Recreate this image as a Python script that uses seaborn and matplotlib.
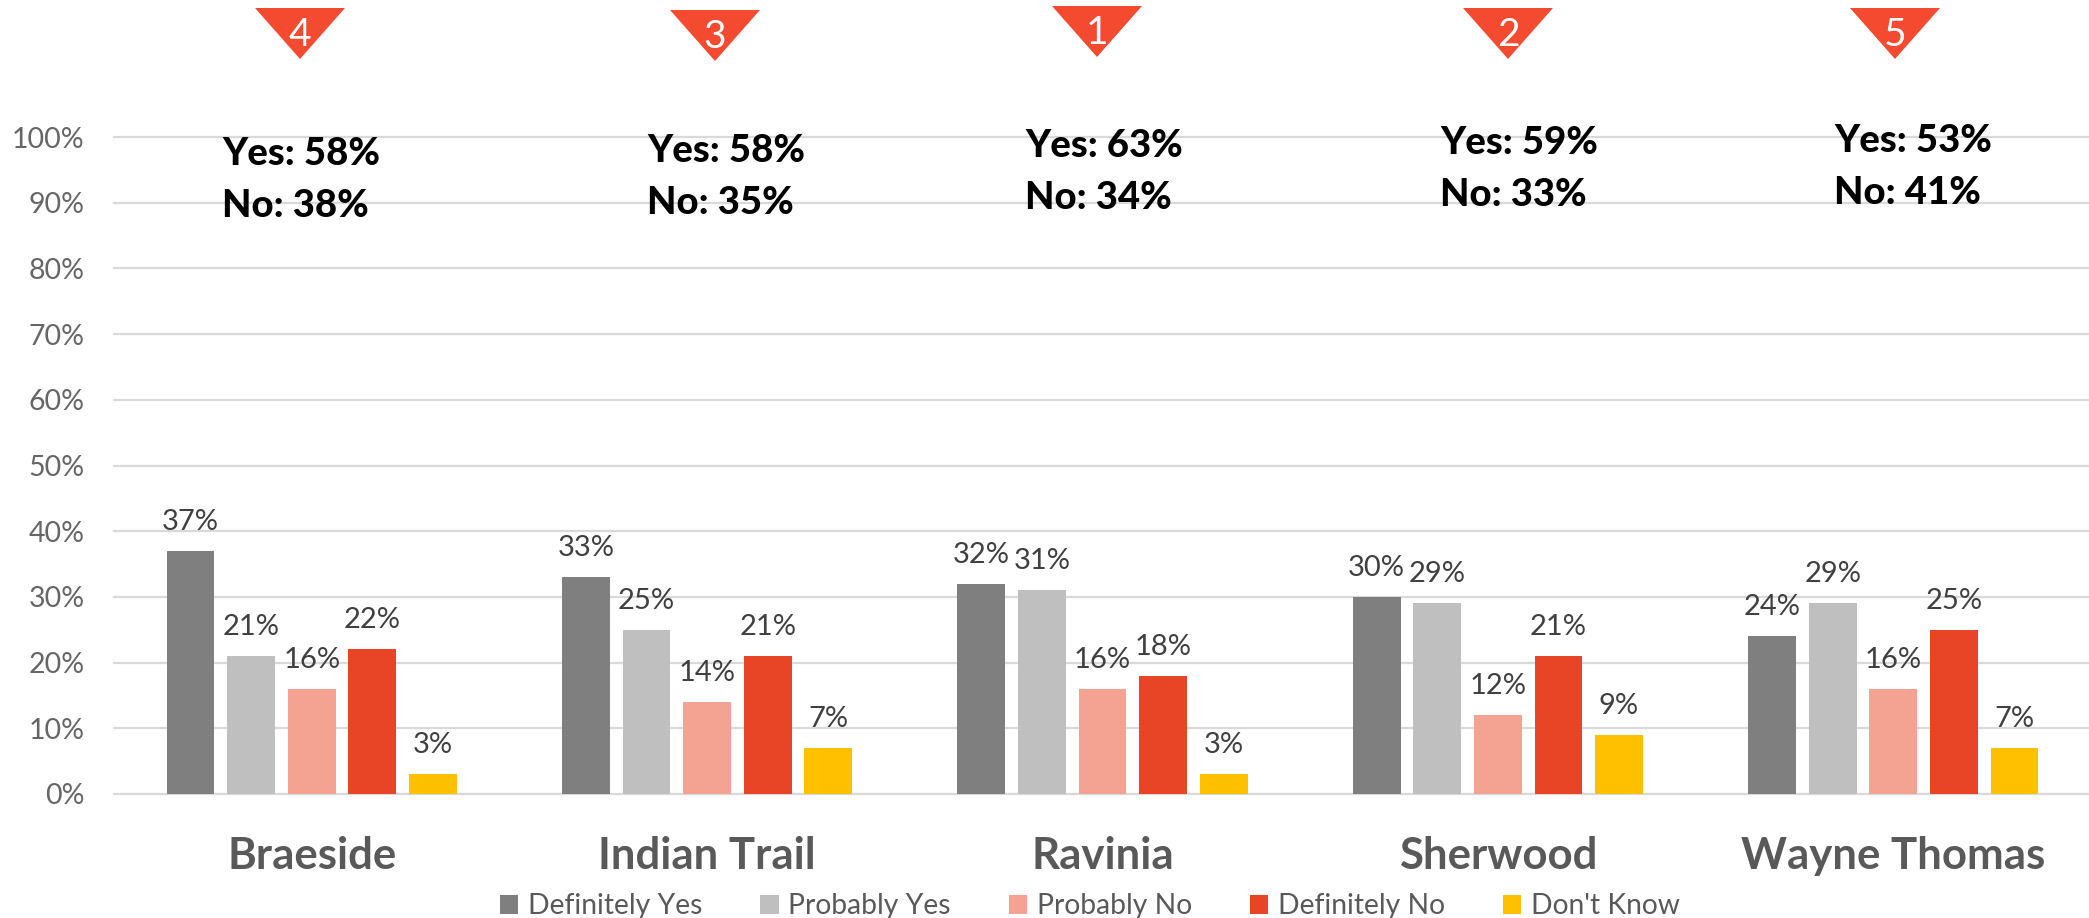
import pandas as pd
import matplotlib
matplotlib.use('Agg')
import matplotlib.pyplot as plt
from matplotlib.patches import Polygon
import seaborn as sns

# %% Data.
schools = ['Braeside', 'Indian Trail', 'Ravinia', 'Sherwood', 'Wayne Thomas']
answers = ['Definitely Yes', 'Probably Yes', 'Probably No', 'Definitely No', "Don't Know"]
definitely_yes = [37, 33, 32, 30, 24]
probably_yes = [21, 25, 31, 29, 29]
probably_no = [16, 14, 16, 12, 16]
definitely_no = [22, 21, 18, 21, 25]
dont_know = [3, 7, 3, 9, 7]
ranks = [4, 3, 1, 2, 5]
yes_totals = [58, 58, 63, 59, 53]
no_totals = [38, 35, 34, 33, 41]

colors = ['#7f7f7f', '#bfbfbf', '#f4a392', '#e84526', '#ffc000']

df = pd.DataFrame({'school': schools, answers[0]: definitely_yes, answers[1]: probably_yes,
                   answers[2]: probably_no, answers[3]: definitely_no, answers[4]: dont_know})
df = df.melt(id_vars='school', var_name='answer', value_name='share')

# %% Layout of the callouts, in pixels from the top left.
W, H = 2089, 918
tri_x = [300, 715, 1097, 1508, 1895]
tri_y = [8, 10, 6, 8, 8]
note_x = [222, 647, 1025, 1440, 1834]
note_y = [154, 151, 146, 143, 141]

# %% Draw.
sns.set_theme(style='white')
plt.rcParams['font.family'] = ['Lato', 'DejaVu Sans']
fig = plt.figure(figsize=(W / 100, H / 100), dpi=100)
ax = fig.add_axes([114 / W, 1 - 794 / H, (W - 114) / W, 657 / H])
sns.barplot(data=df, x='school', y='share', hue='answer', order=schools, hue_order=answers,
            palette=colors, width=0.766, gap=0.21, saturation=1, linewidth=0, ax=ax, zorder=3)
ax.set_xlim(-0.5, 4.495)
ax.set_ylim(0, 100)
ax.set_xlabel('')
ax.set_ylabel('')
ax.set_yticks(range(0, 101, 10), [f'{v}%' for v in range(0, 101, 10)])
ax.tick_params(axis='y', length=0, pad=21, labelsize=20.5, labelcolor='#666666')
ax.tick_params(axis='x', length=0, pad=30, labelsize=31.5, labelcolor='#595959')
for label in ax.get_xticklabels():
    label.set_fontweight('bold')
ax.grid(axis='y', color='#d9d9d9', linewidth=1.6, zorder=0)
for line in ax.get_ygridlines():
    line.set_clip_on(False)
ax.set_axisbelow(True)
sns.despine(ax=ax, left=True, bottom=True, top=True, right=True)

for container in ax.containers:
    ax.bar_label(container, fmt='%.0f%%', padding=11.5, fontsize=21, color='#404040')

handles, labels = ax.get_legend_handles_labels()
ax.legend(handles, labels, ncol=5, loc='center', bbox_to_anchor=(1090 / W, 1 - 906 / H),
          bbox_transform=fig.transFigure, frameon=False, fontsize=20.3, labelcolor='#595959',
          handlelength=0.65, handleheight=0.65, handletextpad=0.35, columnspacing=2.05,
          borderpad=0, borderaxespad=0)

# %% Rank triangles and Yes/No totals.
for x, y, rank in zip(tri_x, tri_y, ranks):
    corners = [((x - 45) / W, 1 - y / H), ((x + 45) / W, 1 - y / H), (x / W, 1 - (y + 51) / H)]
    fig.add_artist(Polygon(corners, closed=True, transform=fig.transFigure, color='#f44b30', lw=0))
    fig.text(x / W, 1 - (y + 27) / H, str(rank), color='white', fontsize=28, ha='center', va='center')

for x, y, yes, no in zip(note_x, note_y, yes_totals, no_totals):
    fig.text(x / W, 1 - y / H, f'Yes: {yes}%', fontweight=900, fontsize=27.5, color='black', va='center')
    fig.text(x / W, 1 - (y + 52) / H, f'No: {no}%', fontweight=900, fontsize=27.5, color='black', va='center')

fig.savefig('out.png', dpi=100)
